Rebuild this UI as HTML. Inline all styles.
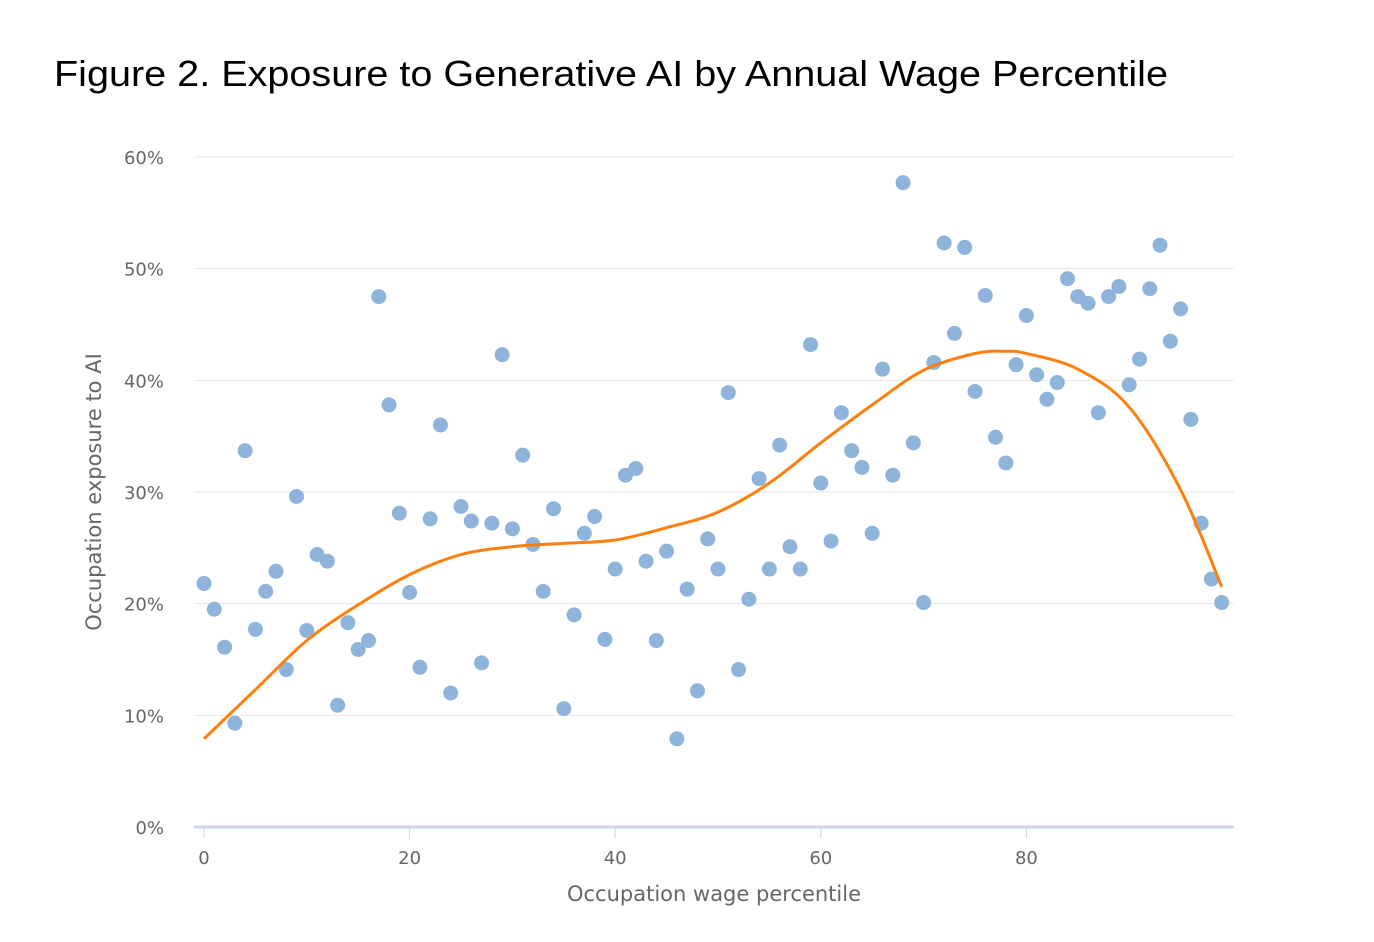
<!DOCTYPE html>
<html><head><meta charset="utf-8">
<style>
html,body{margin:0;padding:0;background:#fff;width:1374px;height:942px;overflow:hidden;}
svg{position:absolute;left:0;top:0;}
text{font-family:"DejaVu Sans","Liberation Sans",sans-serif;fill:#666;}
#title{font-family:"Liberation Sans",sans-serif;fill:#000;}
</style></head>
<body>
<svg id="chart" width="1374" height="942">
<text id="title" x="54" y="86" font-size="36" textLength="1114" lengthAdjust="spacingAndGlyphs">Figure 2. Exposure to Generative AI by Annual Wage Percentile</text>
</svg>
<script>
const exposure = [21.8,19.5,16.1,9.3,33.7,17.7,21.1,22.9,14.1,29.6,17.6,24.4,23.8,10.9,18.3,15.9,16.7,47.5,37.8,28.1,
21.0,14.3,27.6,36.0,12.0,28.7,27.4,14.7,27.2,42.3,26.7,33.3,25.3,21.1,28.5,10.6,19.0,26.3,27.8,16.8,
23.1,31.5,32.1,23.8,16.7,24.7,7.9,21.3,12.2,25.8,23.1,38.9,14.1,20.4,31.2,23.1,34.2,25.1,23.1,43.2,
30.8,25.6,37.1,33.7,32.2,26.3,41.0,31.5,57.7,34.4,20.1,41.6,52.3,44.2,51.9,39.0,47.6,34.9,32.6,41.4,
45.8,40.5,38.3,39.8,49.1,47.5,46.9,37.1,47.5,48.4,39.6,41.9,48.2,52.1,43.5,46.4,36.5,27.2,22.2,20.1];
const trendX = [0,5,10,15,20,25,30,35,40,45,50,55,60,65,70,75,78,80,85,90,95,99];
const trendY = [7.9,12.3,16.7,19.9,22.6,24.4,25.1,25.4,25.7,26.8,28.2,30.8,34.4,37.8,40.9,42.4,42.6,42.4,41.0,37.6,30.2,21.5];
const yTicks = [0,10,20,30,40,50,60];
const xTicks = [0,20,40,60,80];

const svg = document.getElementById('chart');
const NS = 'http://www.w3.org/2000/svg';
const X = v => 204 + v * 10.28;
const Y = v => 827 - v * 11.167;
function mk(tag, attrs, parent){const e=document.createElementNS(NS,tag);for(const k in attrs)e.setAttribute(k,attrs[k]);(parent||svg).appendChild(e);return e;}

yTicks.forEach(t=>{
  if(t>0){const g=mk('line',{x1:194,x2:1234,y1:Y(t),y2:Y(t),stroke:'#e6e6e6','stroke-width':1});
  
  }
  const l=mk('text',{x:164,y:Y(t)+7,'text-anchor':'end','font-size':18});
  l.textContent=t+'%';
  
  
});
const base=mk('line',{x1:194,x2:1234,y1:827,y2:827,stroke:'#ccd6eb','stroke-width':3});


xTicks.forEach(t=>{
  const tk=mk('line',{x1:X(t),x2:X(t),y1:828,y2:838,stroke:'#ccd6eb','stroke-width':1});
  
  
  const l=mk('text',{x:X(t),y:864,'text-anchor':'middle','font-size':18});
  l.textContent=t;
  
  
});
const xt=mk('text',{x:714,y:901,'text-anchor':'middle','font-size':21});
xt.textContent='Occupation wage percentile';


const yt=mk('text',{x:0,y:0,'text-anchor':'middle','font-size':21,transform:'translate(101,492) rotate(-90)'});
yt.textContent='Occupation exposure to AI';



exposure.forEach((v,i)=>{
  const c=mk('circle',{cx:X(i),cy:Y(v),r:7.5,fill:'#8eb4dc'});
  
  
});

const pts=trendX.map((x,i)=>[X(x),Y(trendY[i])]);
let d='M'+pts[0][0]+','+pts[0][1];
for(let i=0;i<pts.length-1;i++){
  const p0=pts[Math.max(i-1,0)],p1=pts[i],p2=pts[i+1],p3=pts[Math.min(i+2,pts.length-1)];
  const c1=[p1[0]+(p2[0]-p0[0])/6,p1[1]+(p2[1]-p0[1])/6];
  const c2=[p2[0]-(p3[0]-p1[0])/6,p2[1]-(p3[1]-p1[1])/6];
  d+=' C'+c1+' '+c2+' '+p2;
}
const tl=mk('path',{d:d,fill:'none',stroke:'#ff7f0e','stroke-width':3});


</script>
</body></html>
